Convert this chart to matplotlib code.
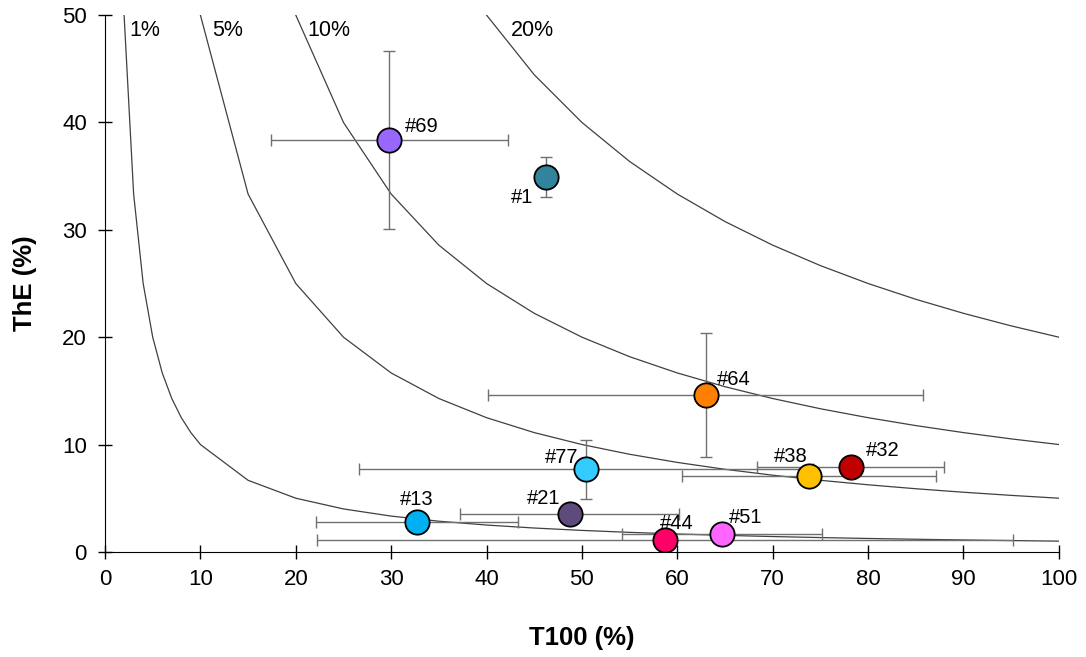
import matplotlib.pyplot as plt

plt.rcParams['font.family'] = ['Liberation Sans', 'DejaVu Sans']

# sample data
names = ['#69', '#1', '#64', '#77', '#38', '#32', '#13', '#21', '#44', '#51']
t100 = [29.8, 46.2, 63.0, 50.4, 73.8, 78.2, 32.7, 48.7, 58.7, 64.7]
the = [38.4, 34.9, 14.6, 7.7, 7.1, 7.9, 2.8, 3.5, 1.1, 1.7]
t100_err = [12.4, 0.0, 22.8, 23.8, 13.3, 9.8, 10.6, 11.5, 36.5, 10.5]
the_err = [8.3, 1.85, 5.75, 2.75, 0.0, 0.0, 0.0, 0.0, 0.0, 0.0]
colors = ['#9966FF', '#31849B', '#FF7F00', '#33CCFF', '#FFC000',
          '#C00000', '#00B0F0', '#5F4B7B', '#FF0066', '#FF66FF']

# label offsets (pixels) and alignment
label_dx = [16, -12, 11, -7, -1, 15, 0, -9, -5, 7]
label_dy = [13, -20, 16, 12, 19, 17, 22, 16, 17, 16]
label_ha = ['left', 'right', 'left', 'right', 'right', 'left', 'center', 'right', 'left', 'left']

# iso-lines T100*ThE = level
levels = [1, 5, 10, 20]
level_labels = ['1%', '5%', '10%', '20%']
level_label_x = [2.6, 11.2, 21.2, 42.6]
curve_x = [1, 2, 3, 4, 5, 6, 7, 8, 9, 10] + list(range(15, 105, 5))

fig, ax = plt.subplots(figsize=(10.86, 6.57), dpi=100)
fig.subplots_adjust(left=0.0967, right=0.975, bottom=0.16, top=0.977)

for lv, lab, lx in zip(levels, level_labels, level_label_x):
    ys = [lv * 100 / x for x in curve_x]
    ax.plot(curve_x, ys, color='#404040', lw=0.9, zorder=1)
    ax.text(lx, 48.6, lab, fontsize=15.5, va='center', ha='left')

for i in range(len(names)):
    ax.errorbar(t100[i], the[i],
                xerr=t100_err[i] if t100_err[i] else None,
                yerr=the_err[i] if the_err[i] else None,
                fmt='none', ecolor='#707070', elinewidth=1, capsize=4, capthick=1, zorder=2)
    ax.plot(t100[i], the[i], 'o', ms=17.5, mfc=colors[i], mec='black', mew=1.3, zorder=3)
    ax.annotate(names[i], (t100[i], the[i]), xytext=(label_dx[i], label_dy[i]),
                textcoords='offset pixels', ha=label_ha[i], va='center', fontsize=14.5, zorder=4)

ax.set_xlim(0, 100)
ax.set_ylim(0, 50)
ax.set_xticks(range(0, 101, 10))
ax.set_yticks(range(0, 51, 10))
ax.tick_params(direction='inout', length=10, width=1, labelsize=16)
ax.tick_params(axis='y', pad=8)
ax.tick_params(axis='x', pad=7)
for s in ['top', 'right']:
    ax.spines[s].set_visible(False)
ax.set_xlabel('T100 (%)', fontsize=18.5, fontweight='bold', labelpad=26)
ax.set_ylabel('ThE (%)', fontsize=18.5, fontweight='bold', labelpad=18)

plt.savefig('out.png', dpi=100)
